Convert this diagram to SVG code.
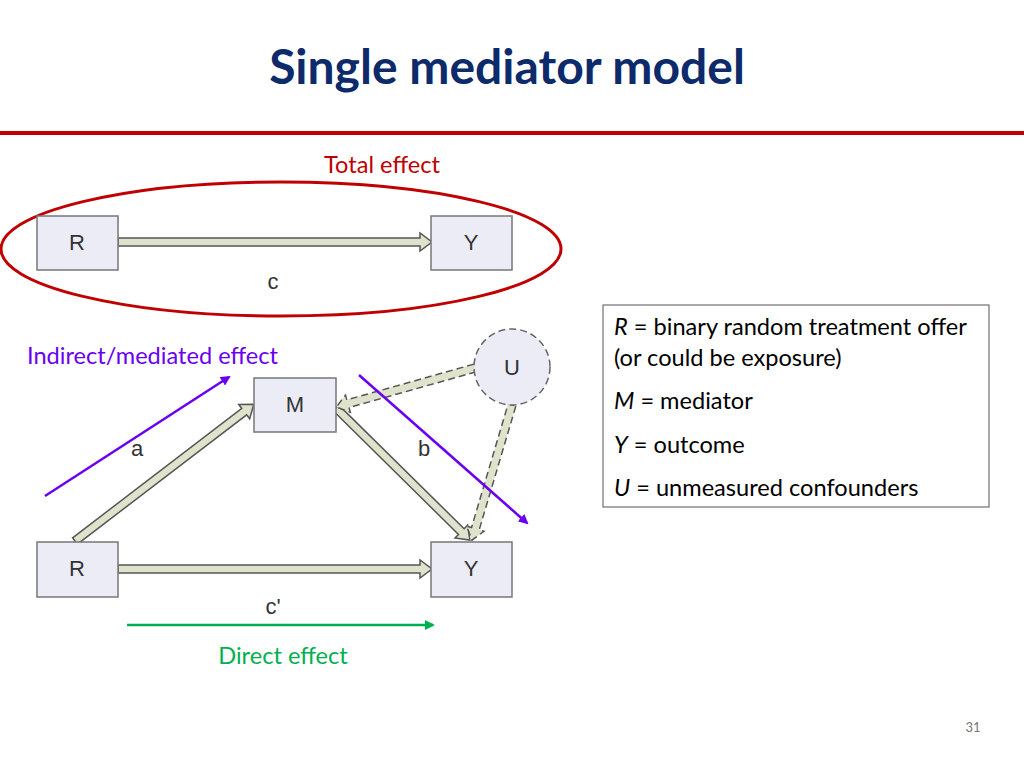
<svg xmlns="http://www.w3.org/2000/svg" width="1024" height="768" viewBox="0 0 1024 768">
<style>
.box{fill:#ebecf5;stroke:#777;stroke-width:1.5}
.bl{font-family:"Liberation Sans",Arial,sans-serif;font-size:22px;fill:#333;text-anchor:middle}
.arr{fill:#dfe3cc;stroke:#555;stroke-width:1.5}
.dash{fill:#dfe3cc;stroke:#555;stroke-width:1.5;stroke-dasharray:7,4}
.t{font-family:Lato,"Liberation Sans",sans-serif;font-size:23.6px}
</style>
<defs>
<marker id="pm" markerWidth="10" markerHeight="10" refX="8" refY="5" orient="auto" markerUnits="userSpaceOnUse"><path d="M0,0 L10,5 L0,10 z" fill="#6a00f0"/></marker>
<marker id="gm" markerWidth="10" markerHeight="10" refX="8" refY="5" orient="auto" markerUnits="userSpaceOnUse"><path d="M0,0 L10,5 L0,10 z" fill="#00b050"/></marker>
</defs>
<rect width="1024" height="768" fill="#fff"/>
<text x="507" y="84" text-anchor="middle" font-family="Lato,'Liberation Sans',sans-serif" font-size="48" font-weight="bold" fill="#0d2a6b">Single mediator model</text>
<rect x="0" y="131" width="1024" height="4" fill="#c00000"/>
<g id="connectors">
<polygon class="arr" transform="translate(118,242)" points="0,-4 302,-4 302,-9 314,0 302,9 302,4 0,4"/>
<polygon class="arr" transform="translate(118,569)" points="0,-4 302,-4 302,-9 314,0 302,9 302,4 0,4"/>
<polygon class="arr" transform="translate(75,541) rotate(-37.4)" points="0,-4 213,-4 213,-9 225,0 213,9 213,4 0,4"/>
<polygon class="arr" transform="translate(336,408) rotate(44.6)" points="0,-4 176,-4 176,-9 188,0 176,9 176,4 0,4"/>
<polygon class="dash" transform="translate(475,368) rotate(164.3)" points="0,-4 132,-4 132,-9 144,0 132,9 132,4 0,4"/>
<polygon class="dash" transform="translate(512,405) rotate(106.5)" points="0,-4 129,-4 129,-9 141,0 129,9 129,4 0,4"/>
<line x1="45" y1="496" x2="229" y2="377" stroke="#6a00f0" stroke-width="2.5" marker-end="url(#pm)"/>
<line x1="359" y1="375" x2="527" y2="523" stroke="#6a00f0" stroke-width="2.5" marker-end="url(#pm)"/>
<line x1="127" y1="625" x2="433" y2="625" stroke="#00b050" stroke-width="2.5" marker-end="url(#gm)"/>
</g>
<ellipse cx="281" cy="249" rx="280" ry="67" fill="none" stroke="#c00000" stroke-width="3"/>
<g id="R1"><rect class="box" x="37" y="216" width="81" height="54"/><text class="bl" x="77" y="250">R</text></g>
<g id="Y1"><rect class="box" x="431" y="216" width="81" height="54"/><text class="bl" x="471" y="250">Y</text></g>
<g id="M"><rect class="box" x="254" y="378" width="82" height="54"/><text class="bl" x="295" y="412">M</text></g>
<g id="R2"><rect class="box" x="37" y="542" width="81" height="55"/><text class="bl" x="77" y="576">R</text></g>
<g id="Y2"><rect class="box" x="431" y="542" width="81" height="55"/><text class="bl" x="471" y="576">Y</text></g>
<g id="U"><circle cx="512" cy="367" r="38" fill="#ebecf5" stroke="#666" stroke-width="1.5" stroke-dasharray="7,4"/><text class="bl" x="512" y="375">U</text></g>
<text class="bl" x="273" y="289">c</text>
<text class="bl" x="137" y="456">a</text>
<text class="bl" x="424" y="456">b</text>
<text class="bl" x="273" y="614">c'</text>
<text class="t" x="382" y="173" text-anchor="middle" fill="#c00000">Total effect</text>
<text class="t" x="27" y="364" fill="#6a00f0">Indirect/mediated effect</text>
<text class="t" x="283" y="664" text-anchor="middle" fill="#00b050">Direct effect</text>
<g id="legend">
<rect x="603" y="305" width="386" height="202" fill="#fff" stroke="#555" stroke-width="1"/>
<text class="t" x="614" y="335" fill="#000"><tspan font-style="italic">R</tspan> = binary random treatment offer</text>
<text class="t" x="614" y="366" fill="#000">(or could be exposure)</text>
<text class="t" x="614" y="409" fill="#000"><tspan font-style="italic">M</tspan> = mediator</text>
<text class="t" x="614" y="453" fill="#000"><tspan font-style="italic">Y</tspan> = outcome</text>
<text class="t" x="614" y="496" fill="#000"><tspan font-style="italic">U</tspan> = unmeasured confounders</text>
</g>
<text x="973" y="732" text-anchor="middle" font-family="Lato,'Liberation Sans',sans-serif" font-size="13" fill="#777">31</text>
</svg>
